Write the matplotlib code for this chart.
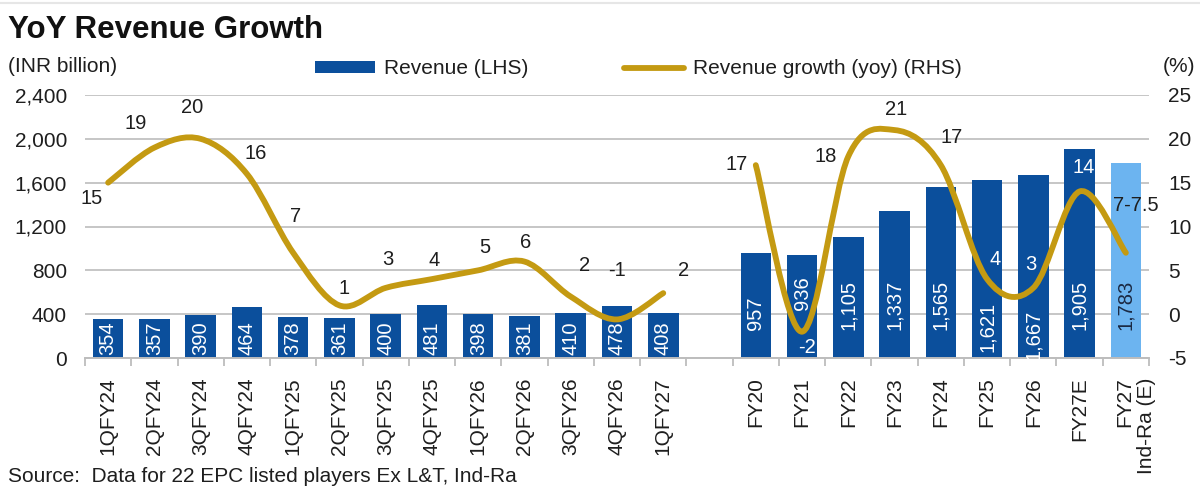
import matplotlib
matplotlib.use('Agg')
import matplotlib.pyplot as plt
from matplotlib.path import Path
from matplotlib.patches import PathPatch, Patch
from matplotlib.lines import Line2D
from matplotlib.transforms import ScaledTranslation
import numpy as np

plt.rcParams['font.family'] = ['Liberation Sans', 'DejaVu Sans']

# ---------------- data ----------------
quarters = ['1QFY24', '2QFY24', '3QFY24', '4QFY24', '1QFY25', '2QFY25', '3QFY25',
            '4QFY25', '1QFY26', '2QFY26', '3QFY26', '4QFY26', '1QFY27']
q_revenue = [354, 357, 390, 464, 378, 361, 400, 481, 398, 381, 410, 478, 408]
q_growth = [15, 19, 20, 16, 7, 1, 3, 4, 5, 6, 2, -0.6, 2.4]
q_growth_labels = ['15', '19', '20', '16', '7', '1', '3', '4', '5', '6', '2', '-1', '2']

years = ['FY20', 'FY21', 'FY22', 'FY23', 'FY24', 'FY25', 'FY26', 'FY27E', 'FY27\nInd-Ra (E)']
y_revenue = [957, 936, 1105, 1337, 1565, 1621, 1667, 1905, 1783]
y_growth = [17, -2, 18, 21, 17, 4, 3, 14, 7]
y_growth_labels = ['17', '-2', '18', '21', '17', '4', '3', '14', '7-7.5']

left_ticks = [0, 400, 800, 1200, 1600, 2000, 2400]
right_ticks = [-5, 0, 5, 10, 15, 20, 25]

# ---------------- styles ----------------
BLUE = '#0B4F9C'
LIGHT = '#6CB4F0'
GOLD = '#C49A12'
GRID = '#C6C6C6'
TXT = '#1E1E1E'
FS = 15

# label offsets in pixels (dx, dy)
q_lab_off = [(-17, -16), (-19, 24), (-9, 31), (9, 20), (2, 36), (5, 17), (2, 28),
             (2, 19), (7, 23), (1, 19), (14, 31), (0, 49), (20, 23)]
y_lab_off = [(-19, 1), (5, -16), (-23, 0), (2, 21), (11, 28), (8, 20), (-3, 23),
             (4, 24), (10, 47)]
y_lab_col = [TXT, 'white', TXT, TXT, TXT, 'white', 'white', 'white', TXT]
q_bar_lift = [3] * len(quarters)
y_bar_lift = [28, 48, 28, 28, 28, 6, -2, 28, 28]
y_bar_col = [BLUE] * 8 + [LIGHT]
y_bar_txt = ['white'] * 8 + ['#1B2A44']

# positions (one empty slot between quarterly and annual groups)
qx = np.arange(len(quarters))
yx = len(quarters) + 1 + np.arange(len(years))
n_slots = len(quarters) + 1 + len(years)

fig = plt.figure(figsize=(12, 5), dpi=100)
ax = fig.add_axes([85 / 1200, 1 - 358 / 500, (1149 - 85) / 1200, (358 - 95) / 500])
ax2 = ax.twinx()

W = 0.66
ax.bar(qx, q_revenue, width=W, color=BLUE, zorder=2)
ax.bar(yx, y_revenue, width=W, color=y_bar_col, zorder=2)

for x, v, lift in zip(qx, q_revenue, q_bar_lift):
    ax.annotate(f'{v:,}', xy=(x, 0), xytext=(0, lift), textcoords='offset pixels',
                rotation=90, ha='center', va='bottom', color='white', fontsize=14.5,
                zorder=3, annotation_clip=False)
for x, v, lift, c in zip(yx, y_revenue, y_bar_lift, y_bar_txt):
    t = ax.annotate(f'{v:,}', xy=(x, 0), xytext=(0, lift), textcoords='offset pixels',
                    rotation=90, ha='center', va='bottom', color=c, fontsize=14.5,
                    zorder=3, annotation_clip=False)
    t.set_clip_on(True)

ax.set_xlim(-0.5, n_slots - 0.5)
ax.set_ylim(0, 2400)
ax2.set_ylim(-5, 25)


def smooth_path(xs, ys):
    pts = np.column_stack([xs, ys]).astype(float)
    n = len(pts)
    verts = [pts[0]]
    codes = [Path.MOVETO]
    for i in range(n - 1):
        p0 = pts[i - 1] if i > 0 else pts[i]
        p1 = pts[i]
        p2 = pts[i + 1]
        p3 = pts[i + 2] if i + 2 < n else pts[i + 1]
        verts += [p1 + (p2 - p0) / 6, p2 - (p3 - p1) / 6, p2]
        codes += [Path.CURVE4] * 3
    return Path(verts, codes)


for xs, gs in ((qx, q_growth), (yx, y_growth)):
    pp = PathPatch(smooth_path(xs, gs), fill=False, edgecolor=GOLD, lw=4.2,
                   capstyle='round', joinstyle='round', zorder=4)
    ax2.add_patch(pp)

for x, g, lab, (dx, dy) in zip(qx, q_growth, q_growth_labels, q_lab_off):
    ax2.annotate(lab, xy=(x, g), xytext=(dx, dy), textcoords='offset pixels',
                 ha='center', va='center', color=TXT, fontsize=14.5, zorder=5)
for x, g, lab, (dx, dy), c in zip(yx, y_growth, y_growth_labels, y_lab_off, y_lab_col):
    ax2.annotate(lab, xy=(x, g), xytext=(dx, dy), textcoords='offset pixels',
                 ha='center', va='center', color=c, fontsize=14.5, zorder=5)

# axes styling
ax.set_yticks(left_ticks)
ax.set_yticklabels([f'{v:,}' for v in left_ticks])
ax2.set_yticks(right_ticks)
ax2.set_yticklabels([str(v) for v in right_ticks])
ax.yaxis.grid(True, color=GRID, lw=1.4)
ax.set_axisbelow(True)
for s in ('top', 'left', 'right'):
    ax.spines[s].set_visible(False)
ax.spines['bottom'].set_color('#BDBDBD')
ax.spines['bottom'].set_linewidth(1.4)
for s in ax2.spines.values():
    s.set_visible(False)

ax.tick_params(axis='y', length=0, pad=13, labelsize=FS, labelcolor=TXT)
ax2.tick_params(axis='y', length=0, pad=14, labelsize=FS, labelcolor=TXT)

ax.set_xticks(list(qx) + list(yx))
ax.set_xticklabels(quarters + years, rotation=90, fontsize=FS, color=TXT)
ax.tick_params(axis='x', which='major', length=0, pad=14)
ax.set_xticks(np.arange(-0.5, n_slots, 1), minor=True)
ax.tick_params(axis='x', which='minor', length=6, width=1.3, color='#BDBDBD')
for lbl in ax.get_xticklabels():
    if '\n' in lbl.get_text():
        lbl.set_multialignment('right')
        lbl.set_transform(lbl.get_transform() + ScaledTranslation(0.1, 0, fig.dpi_scale_trans))

# texts
fig.text(8 / 1200, 1 - 38 / 500, 'YoY Revenue Growth', fontsize=22.5, fontweight='bold',
         color='#111111', ha='left', va='baseline')
fig.text(8 / 1200, 1 - 66 / 500, '(INR billion)', fontsize=FS, color=TXT, ha='left', va='center')
fig.text(1163 / 1200, 1 - 66 / 500, '(%)', fontsize=FS, color=TXT, ha='left', va='center')
fig.text(8 / 1200, 1 - 476 / 500, 'Source:  Data for 22 EPC listed players Ex L&T, Ind-Ra',
         fontsize=FS, color=TXT, ha='left', va='center')

handles = [Patch(facecolor=BLUE, edgecolor='none'),
           Line2D([0], [0], color=GOLD, lw=4.2, solid_capstyle='round')]
fig.legend(handles, ['Revenue (LHS)', 'Revenue growth (yoy) (RHS)'],
           loc='center left', bbox_to_anchor=(315 / 1200, 1 - 69 / 500), ncol=2,
           frameon=False, fontsize=FS, handlelength=2.9, handleheight=0.5,
           handletextpad=0.4, columnspacing=4.6, borderpad=0, borderaxespad=0,
           labelcolor=TXT)

fig.add_artist(Line2D([0, 1], [0.995, 0.995], transform=fig.transFigure,
                      color='#E6E6E6', lw=1.5))

fig.savefig('out.png', dpi=100, facecolor='white')
